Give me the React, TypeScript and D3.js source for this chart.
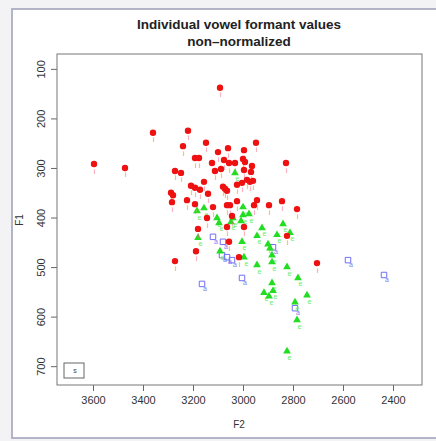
import React, { useEffect, useRef } from 'react';
import * as d3 from 'd3';

// F2 / F1 values (Hz)
const iF2 = [3092, 3360, 3220, 3596, 3472, 3240, 3148, 3192, 3176, 3272, 3248, 3100, 3060, 3124, 3112, 3088, 3076, 3056, 3032,
  3208, 3192, 3172, 3156, 3140, 3080, 3072, 3064, 3024, 3004, 3288, 3280, 3284, 3224, 3192, 3120, 3064, 3052, 3024, 3144, 3044,
  3180, 3064, 3056, 3188, 3016, 2948, 2996, 3000, 2992, 2964, 2996, 2968, 2984, 2972, 2960, 2828, 2944, 2956, 2896, 2844, 2784,
  2996, 2824, 2704, 3272];
const iF1 = [138, 229, 225, 292, 300, 256, 249, 280, 280, 306, 310, 268, 260, 290, 306, 302, 284, 290, 290,
  336, 340, 344, 328, 352, 338, 342, 346, 334, 330, 350, 355, 369, 365, 373, 379, 375, 375, 367, 401, 397,
  423, 419, 449, 468, 480, 249, 264, 282, 288, 296, 304, 308, 324, 328, 326, 290, 365, 375, 375, 367, 383,
  419, 437, 492, 488];

const eF2 = [3032, 3156, 3184, 3000, 2976, 3104, 3096, 3048, 3040, 3008, 3000, 2924, 2840, 2812, 2864, 2944, 3004, 3180,
  3092, 2900, 2892, 2884, 2884, 2944, 2824, 2780, 2744, 2884, 2916, 2896, 2880, 2792, 2784, 2824, 2996];
const eF1 = [310, 381, 387, 379, 393, 401, 411, 409, 401, 407, 395, 421, 413, 431, 435, 437, 449, 441,
  468, 454, 462, 476, 490, 496, 500, 522, 557, 532, 552, 559, 548, 571, 607, 670, 480];

const aF2 = [3120, 3080, 3084, 3064, 3044, 3164, 3004, 2880, 2792, 2580, 2436];
const aF1 = [439, 449, 476, 480, 486, 534, 522, 460, 583, 486, 516];

const xTicks = [3600, 3400, 3200, 3000, 2800, 2600, 2400];
const yTicks = [100, 200, 300, 400, 500, 600, 700];

const FONT = '"Liberation Sans", Arial, Helvetica, sans-serif';

const App = () => {
  const ref = useRef<SVGSVGElement | null>(null);

  useEffect(() => {
    const svg = d3.select(ref.current);
    svg.selectAll('*').remove();

    const width = 436;
    const height = 441;
    const box = { left: 57, right: 422, top: 54, bottom: 385 };

    svg.attr('width', width).attr('height', height);

    svg.append('rect').attr('width', width).attr('height', height).attr('fill', '#f3f3f6');
    svg.append('rect')
      .attr('x', 12).attr('y', 9).attr('width', 440).attr('height', 429)
      .attr('fill', '#fff').attr('stroke', '#b4b4c8').attr('stroke-width', 2);

    const x = d3.scaleLinear().domain([3744, 2284]).range([box.left, box.right]);
    const y = d3.scaleLinear().domain([70, 738]).range([box.top, box.bottom]);

    // title
    const title = svg.append('text')
      .attr('text-anchor', 'middle')
      .attr('font-family', FONT)
      .attr('font-weight', 'bold')
      .attr('font-size', 13.5)
      .attr('fill', '#222');
    title.append('tspan').attr('x', 239).attr('y', 29).text('Individual vowel formant values');
    title.append('tspan').attr('x', 239).attr('y', 46).text('non\u2013normalized');

    // axes
    const xAxis = svg.append('g')
      .attr('transform', `translate(0,${box.bottom})`)
      .call(d3.axisBottom(x).tickValues(xTicks).tickSize(6).tickPadding(5).tickFormat(d3.format('d')));
    xAxis.select('.domain').remove();
    xAxis.selectAll('line').attr('stroke', '#666');
    xAxis.selectAll('text').attr('font-family', FONT).attr('font-size', 11).attr('fill', '#333');

    const yAxis = svg.append('g')
      .attr('transform', `translate(${box.left},0)`)
      .call(d3.axisLeft(y).tickValues(yTicks).tickSize(6).tickFormat(d3.format('d')));
    yAxis.select('.domain').remove();
    yAxis.selectAll('line').attr('stroke', '#666');
    yAxis.selectAll('text')
      .attr('font-family', FONT).attr('font-size', 11).attr('fill', '#333')
      .attr('text-anchor', 'middle')
      .attr('x', 0).attr('dy', 0)
      .attr('transform', 'translate(-12,0) rotate(-90)');

    svg.append('rect')
      .attr('x', box.left).attr('y', box.top)
      .attr('width', box.right - box.left).attr('height', box.bottom - box.top)
      .attr('fill', 'none').attr('stroke', '#777');

    svg.append('text')
      .attr('x', 239).attr('y', 428)
      .attr('text-anchor', 'middle')
      .attr('font-family', FONT).attr('font-size', 10).attr('fill', '#333')
      .text('F2');
    svg.append('text')
      .attr('transform', 'translate(23,220) rotate(-90)')
      .attr('text-anchor', 'middle')
      .attr('font-family', FONT).attr('font-size', 10).attr('fill', '#333')
      .text('F1');

    // legend
    svg.append('rect')
      .attr('x', 64).attr('y', 363).attr('width', 20).attr('height', 15)
      .attr('fill', 'none').attr('stroke', '#666');
    svg.append('text')
      .attr('x', 75).attr('y', 373)
      .attr('text-anchor', 'middle')
      .attr('font-family', FONT).attr('font-size', 7).attr('fill', '#444')
      .text('s');

    const drawSeries = (f2: number[], f1: number[], symbol: d3.SymbolType, size: number,
      fill: string, stroke: string, label: string, labelColor: string, dx: number, dy: number) => {
      const pts = f2.map((v, i) => ({ f2: v, f1: f1[i] }));
      const g = svg.append('g');
      g.selectAll('text')
        .data(pts)
        .enter().append('text')
        .attr('x', d => x(d.f2) + dx)
        .attr('y', d => y(d.f1) + dy)
        .attr('text-anchor', 'middle')
        .attr('font-family', FONT).attr('font-size', 7)
        .attr('fill', labelColor)
        .text(label);
      g.selectAll('path')
        .data(pts)
        .enter().append('path')
        .attr('transform', d => `translate(${x(d.f2)},${y(d.f1)})`)
        .attr('d', d3.symbol().type(symbol).size(size)())
        .attr('fill', fill)
        .attr('stroke', stroke)
        .attr('stroke-width', 1);
    };

    drawSeries(aF2, aF1, d3.symbolSquare, 30, 'none', '#6f6ff5', 'a', '#8080f0', 3, 7);
    drawSeries(eF2, eF1, d3.symbolTriangle, 26, '#22dd22', 'none', 'e', '#66ee66', 2.5, 8.5);
    drawSeries(iF2, iF1, d3.symbolCircle, 32, '#ee1111', 'none', 'i', '#f48080', 0.5, 9.5);
  }, []);

  return (
    <div>
      <svg ref={ref} style={{ position: 'absolute', left: 0, top: 0 }}></svg>
    </div>
  );
};

export default App;
